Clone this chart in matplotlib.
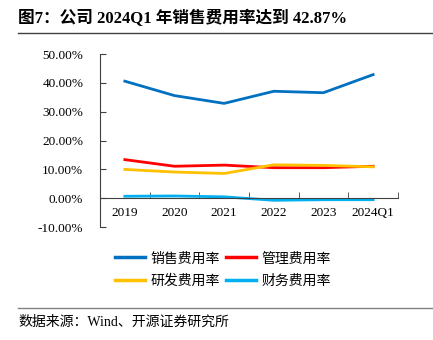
import numpy as np
import matplotlib
matplotlib.use("Agg")
import matplotlib.pyplot as plt
from matplotlib.lines import Line2D

plt.rcParams['font.family'] = ['Liberation Serif', 'Noto Sans CJK SC']

# 数据
years = ['2019', '2020', '2021', '2022', '2023', '2024Q1']
xiaoshou = [40.6, 35.6, 32.9, 37.1, 36.6, 42.87]   # 销售费用率
guanli   = [13.4, 11.1, 11.5, 10.6, 10.6, 11.1]    # 管理费用率
yanfa    = [10.0, 9.1, 8.6, 11.6, 11.4, 10.9]      # 研发费用率
caiwu    = [0.7, 0.8, 0.5, -0.7, -0.5, -0.5]       # 财务费用率
yticks = [-10, 0, 10, 20, 30, 40, 50]

fig = plt.figure(figsize=(4.33, 3.40), dpi=100)
ax = fig.add_axes([0.231, 0.332, 0.688, 0.509])

x = np.arange(len(years))
lw = 2.0
ax.plot(x, xiaoshou, color='#0070C0', lw=lw)
ax.plot(x, guanli, color='#FF0000', lw=lw)
ax.plot(x, yanfa, color='#FFC000', lw=lw)
ax.plot(x, caiwu, color='#00B0F0', lw=lw)

ax.set_xlim(-0.5, len(years) - 0.5)
ax.set_ylim(-10, 50)
ax.set_yticks(yticks)
ax.set_yticklabels(['%.2f%%' % v for v in yticks], fontsize=9.5)

ax.spines['top'].set_visible(False)
ax.spines['right'].set_visible(False)
ax.spines['bottom'].set_position(('data', 0))
ax.spines['bottom'].set_color('#404040')
ax.spines['left'].set_color('#404040')

ax.set_xticks(x)
ax.set_xticklabels(years, fontsize=9.5)
ax.tick_params(axis='x', length=0, pad=6)
ax.set_xticks(np.arange(len(years)) + 0.5, minor=True)
ax.tick_params(axis='x', which='minor', direction='in', length=4, color='#404040')
ax.tick_params(axis='y', direction='in', length=4, color='#404040', pad=12)

# 图例（按列填充，所以顺序为 销售、研发、管理、财务）
handles = [Line2D([], [], color='#0070C0', lw=2.5),
           Line2D([], [], color='#FFC000', lw=2.5),
           Line2D([], [], color='#FF0000', lw=2.5),
           Line2D([], [], color='#00B0F0', lw=2.5)]
labels = ['销售费用率', '研发费用率', '管理费用率', '财务费用率']
fig.legend(handles, labels, ncol=2, loc='center', bbox_to_anchor=(0.515, 0.206),
           frameon=False, fontsize=10, handlelength=2.2, handletextpad=0.4,
           columnspacing=0.4, labelspacing=0.65)

# 标题与来源
fig.text(0.042, 0.945, '图7：公司 2024Q1 年销售费用率达到 42.87%', fontsize=12,
         fontweight='bold', va='center', ha='left')
fig.add_artist(Line2D([0.042, 1.0], [0.903, 0.903], color='#404040', lw=1.0))
fig.add_artist(Line2D([0.042, 1.0], [0.094, 0.094], color='#808080', lw=1.0))
fig.text(0.042, 0.052, '数据来源：Wind、开源证券研究所', fontsize=10, va='center', ha='left')

fig.savefig('out.png', dpi=100)
